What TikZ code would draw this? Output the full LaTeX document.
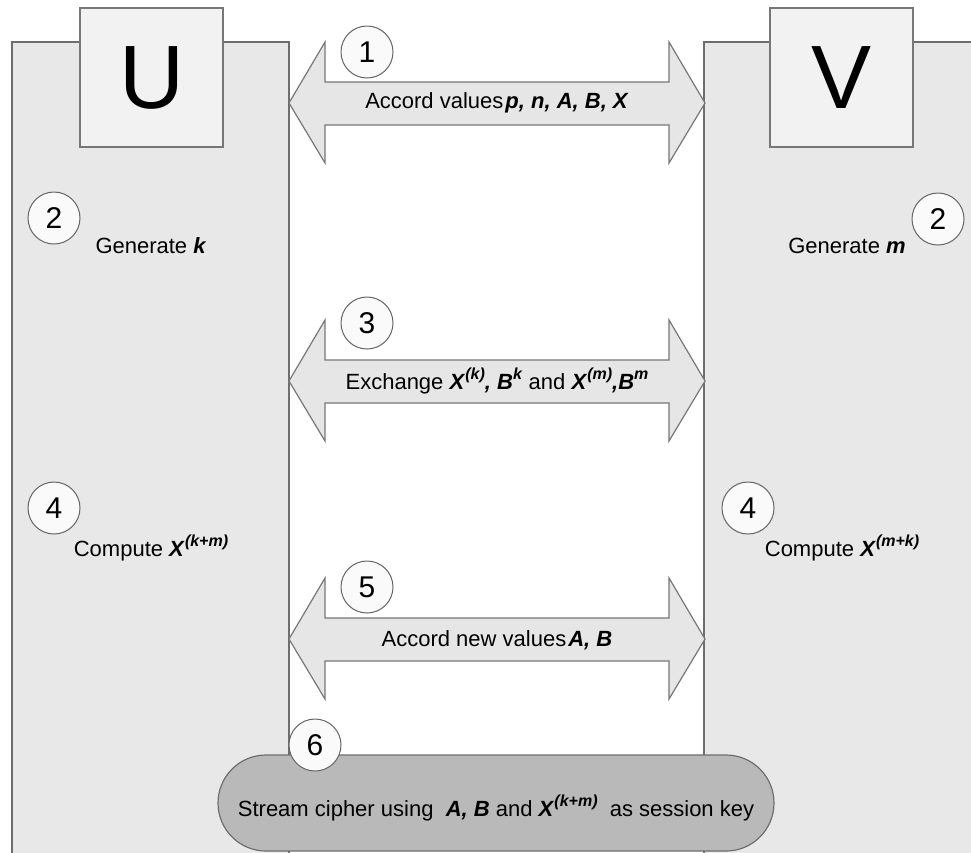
\documentclass[tikz,border=0pt]{standalone}
\usepackage{fontspec}
\setmainfont{Liberation Sans}
\newcommand\bi[1]{\textbf{\textit{#1}}}
\newcommand\mysup[1]{\raisebox{0.45em}{\fontsize{16}{18}\selectfont\bi{#1}}}
\definecolor{panelfill}{HTML}{E8E8E8}
\definecolor{panelline}{HTML}{6E6E6E}
\definecolor{boxfill}{HTML}{F2F2F2}
\definecolor{arrowfill}{HTML}{E6E6E6}
\definecolor{arrowline}{HTML}{777777}
\definecolor{pillfill}{HTML}{B9B9B9}
\definecolor{circfill}{HTML}{FAFAFA}
\tikzset{
  panel/.style={fill=panelfill, draw=panelline, line width=1.5pt},
  letterbox/.style={fill=boxfill, draw=arrowline, line width=1.2pt, minimum width=143, minimum height=139, inner sep=0pt, font=\fontsize{90}{90}\selectfont},
  arrowshape/.style={fill=arrowfill, draw=arrowline, line width=1.2pt, line join=miter},
  numcirc/.style={circle, fill=circfill, draw=black!60, line width=1pt, minimum size=52, inner sep=0pt, font=\fontsize{30}{30}\selectfont},
  lbl/.style={inner sep=0pt, font=\fontsize{22}{26}\selectfont},
  pillstyle/.style={fill=pillfill, draw=panelline, line width=1.2pt},
  dblarrow/.pic={\draw[arrowshape] (-208,0) -- (-172,-61) -- (-172,-21) -- (172,-21) -- (172,-61) -- (208,0) -- (172,60) -- (172,22) -- (-172,22) -- (-172,60) -- cycle;}
}
\begin{document}
\begin{tikzpicture}[x=1pt,y=-1pt]
\useasboundingbox (0,0) rectangle (971,852);
\clip (0,0) rectangle (971,852);
\fill[white] (0,0) rectangle (971,852);
% panels
\draw[panel] (12,42) rectangle (289,880);
\draw[panel] (704,42) rectangle (1000,880);
% party boxes
\node[letterbox] (U) at (151.5,77.5) {U};
\node[letterbox] (V) at (841.5,77.5) {V};
% arrows
\pic at (497,103) {dblarrow};
\pic at (497,381) {dblarrow};
\pic at (497,639) {dblarrow};
% arrow labels
\node[lbl] (t1) at (497,103) {Accord values\kern2pt\bi{p, n, A, B, X}};
\node[lbl] (t3) at (497,381) {Exchange \bi{X}\mysup{(k)}\bi{, B}\mysup{k} and \bi{X}\mysup{(m)}\bi{,B}\mysup{m}};
\node[lbl] (t5) at (497,640) {Accord new values\kern2pt\bi{A, B}};
% side labels
\node[lbl] (g1) at (151,246) {Generate \bi{k}};
\node[lbl] (g2) at (847,246) {Generate \bi{m}};
\node[lbl] (c4l) at (151,548) {Compute \bi{X}\mysup{(k+m)}};
\node[lbl] (c4r) at (842,548) {Compute \bi{X}\mysup{(m+k)}};
% session pill
\draw[pillstyle, rounded corners=48] (218,755) rectangle (774,851);
\node[lbl] (t6) at (496,808) {Stream cipher using \ \bi{A, B} and \bi{X}\mysup{(k+m)} \ as session key};
% step circles
\node[numcirc] (n1) at (367,52) {1};
\node[numcirc] (n2l) at (54,218) {2};
\node[numcirc] (n2r) at (938,219) {2};
\node[numcirc] (n3) at (367,323) {3};
\node[numcirc] (n4l) at (54,508) {4};
\node[numcirc] (n4r) at (748,508) {4};
\node[numcirc] (n5) at (367,587) {5};
\node[numcirc] (n6) at (315,745) {6};
\end{tikzpicture}
\end{document}
